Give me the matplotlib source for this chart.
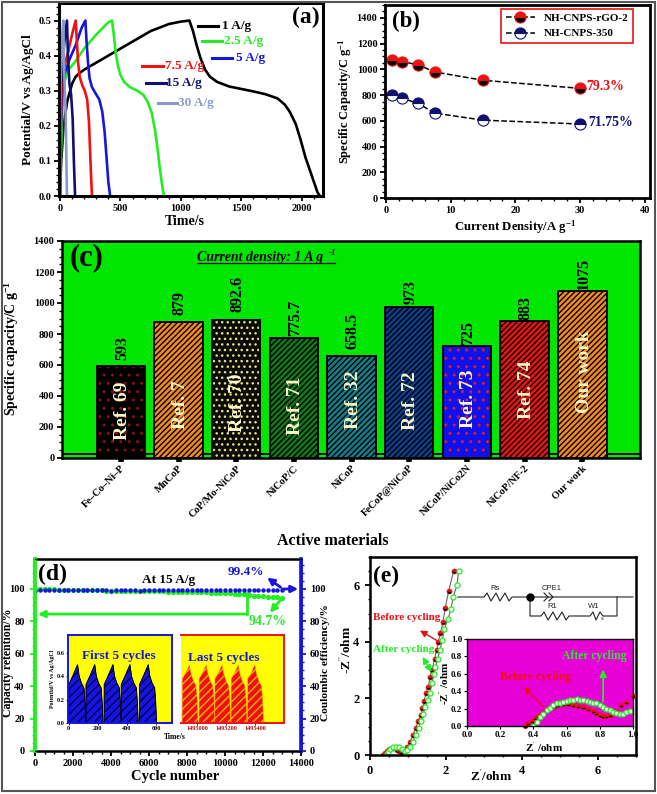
import matplotlib
matplotlib.use("Agg")
import matplotlib.pyplot as plt
from matplotlib.patches import Rectangle

plt.rcParams["font.family"] = ["Liberation Serif", "DejaVu Serif"]
plt.rcParams["font.weight"] = "bold"
plt.rcParams["axes.labelweight"] = "bold"
plt.rcParams["mathtext.fontset"] = "custom"
plt.rcParams["mathtext.rm"] = "Liberation Serif:bold"
plt.rcParams["mathtext.it"] = "Liberation Serif:italic:bold"
plt.rcParams["mathtext.bf"] = "Liberation Serif:bold"
plt.rcParams["mathtext.default"] = "rm"
plt.rcParams["hatch.linewidth"] = 1.0

W, H = 657, 794

# panel a, galvanostatic curves
t_1 = [0, 10, 30, 60, 100, 130, 160, 200, 300, 450, 600, 750, 900, 1000, 1070, 1100, 1130, 1160, 1200, 1240, 1300, 1400, 1500, 1600, 1700, 1800, 1860, 1900, 1950, 1990, 2030, 2080, 2130, 2150]
v_1 = [0, .10, .20, .27, .32, .34, .35, .36, .38, .41, .44, .47, .49, .497, .50, .47, .43, .395, .36, .34, .325, .312, .305, .298, .29, .278, .26, .24, .205, .16, .11, .06, .01, 0]
t_25 = [0, 8, 20, 40, 70, 120, 200, 300, 400, 430, 445, 460, 480, 500, 530, 580, 640, 690, 730, 760, 785, 805, 825, 845, 860]
v_25 = [0, .12, .25, .33, .36, .38, .42, .46, .495, .50, .46, .41, .37, .345, .325, .31, .30, .288, .265, .235, .19, .14, .08, .03, 0]
t_5 = [0, 5, 15, 40, 80, 130, 180, 210, 220, 232, 245, 265, 290, 325, 350, 370, 385, 400, 415]
v_5 = [0, .15, .28, .35, .39, .43, .48, .50, .44, .38, .335, .31, .295, .275, .24, .18, .11, .04, 0]
t_75 = [0, 4, 12, 30, 60, 100, 130, 140, 150, 163, 185, 205, 225, 240, 250, 258, 265]
v_75 = [0, .15, .30, .36, .40, .46, .50, .44, .38, .34, .315, .30, .275, .21, .12, .05, 0]
t_15 = [0, 3, 8, 20, 40, 58, 66, 78, 92, 105, 115, 125]
v_15 = [0, .18, .30, .38, .45, .50, .40, .32, .29, .22, .10, 0]
t_30 = [0, 2, 5, 12, 22, 28, 33, 40, 47, 53, 58]
v_30 = [0, .20, .32, .40, .47, .50, .38, .30, .24, .10, 0]

# panel b
density = [1, 2.5, 5, 7.5, 15, 30]
cap_rgo = [1075, 1060, 1035, 980, 915, 852]
cap_350 = [800, 775, 735, 660, 605, 575]

# panel c
materials = ["Fe–Co–Ni–P", "MnCoP", "CoP/Mo-NiCoP", "NiCoP/C", "NiCoP", "FeCoP@NiCoP", "NiCoP/NiCo2N", "NiCoP/NF-2", "Our work"]
capacity = [593, 879, 892.6, 775.7, 658.5, 973, 725, 883, 1075]
cap_text = ["593", "879", "892.6", "775.7", "658.5", "973", "725", "883", "1075"]
refs = ["Ref. 69", "Ref. 7", "Ref. 70", "Ref. 71", "Ref. 32", "Ref. 72", "Ref. 73", "Ref. 74", "Our work"]
bar_fill = ["#000000", "#f58a1f", "#0a0a0a", "#0e7a1c", "#11808a", "#0b3f8c", "#1010ee", "#ee1111", "#f58a1f"]
bar_hatch = ["#8a1010", "#000000", "#e8e070", "#000000", "#000000", "#000000", "#cc2222", "#000000", "#000000"]
bar_style = ["..", "//////", "...", "//////", "//////", "//////", "..", "//////", "//////"]
value_gap = [41, 43, 50, 9, 43, 21, 2, 9, 6]
ref_base = [116, 190, 165, 150, 190, 180, 195, 250, 290]

# panel d, every 250 cycles up to 13000
cycles = [0, 250, 500, 750, 1000, 1250, 1500, 1750, 2000, 2250, 2500, 2750, 3000, 3250, 3500, 3750, 4000, 4250, 4500, 4750,
          5000, 5250, 5500, 5750, 6000, 6250, 6500, 6750, 7000, 7250, 7500, 7750, 8000, 8250, 8500, 8750, 9000, 9250, 9500, 9750,
          10000, 10250, 10500, 10750, 11000, 11250, 11500, 11750, 12000, 12250, 12500, 12750, 13000]
retention = [100, 99.9, 99.8, 99.7, 99.7, 99.6, 99.5, 99.5, 99.4, 99.4, 99.3, 99.3, 99.2, 99.1, 99.1, 99.0, 99.0, 98.9, 98.9, 98.8,
             98.8, 98.7, 98.7, 98.7, 98.6, 98.6, 98.5, 98.5, 98.4, 98.4, 98.3, 98.3, 98.2, 98.1, 98.1, 98.0, 97.9, 97.8, 97.7, 97.6,
             97.5, 97.3, 97.2, 97.0, 96.7, 96.2, 95.9, 95.6, 95.4, 95.2, 95.0, 94.8, 94.7]
efficiency = [99.0, 99.2, 99.1, 99.3, 99.2, 99.1, 99.4, 99.3, 99.2, 99.3, 99.4, 99.5, 99.3, 99.2, 99.1, 99.2, 99.0, 99.1, 99.2, 99.1,
              99.2, 99.1, 99.0, 99.2, 99.3, 99.1, 99.4, 99.3, 99.2, 99.4, 99.3, 99.4, 99.5, 99.4, 99.3, 99.4, 99.5, 99.4, 99.3, 99.4,
              99.5, 99.4, 99.5, 99.4, 99.3, 99.4, 99.5, 99.6, 99.4, 99.5, 99.4, 99.5, 99.4]

first_t = [0, 1, 30, 61, 72, 88, 105, 112, 118]
first_v = [0, .33, .41, .50, .40, .34, .30, .18, 0]
first_start = [0, 118, 243, 360, 486]
last_t = [0, 1, 25, 50, 62, 78, 95, 103, 110]
last_v = [0, .38, .43, .50, .42, .36, .32, .22, 0]
last_start = [1494898, 1495014, 1495123, 1495235, 1495349]

# panel e
z_before = [.35, .40, .45, .50, .60, .70, .75, .82, .90, .98, 1.05, 1.13, 1.20, 1.27, 1.33, 1.38, 1.42, 1.48, 1.53, 1.58, 1.63, 1.70, 1.75, 1.80, 1.85, 1.92, 1.98, 2.07, 2.20]
y_before = [0, .08, .15, .22, .25, .18, .14, .12, .17, .30, .45, .70, .95, 1.20, 1.40, 1.65, 1.90, 2.20, 2.40, 2.75, 3.00, 3.40, 3.70, 4.00, 4.30, 4.70, 5.20, 5.80, 6.50]
z_after = [.42, .47, .52, .60, .68, .76, .84, .92, .98, 1.05, 1.12, 1.20, 1.28, 1.34, 1.40, 1.46, 1.52, 1.58, 1.63, 1.68, 1.72, 1.78, 1.84, 1.90, 1.96, 2.05, 2.13, 2.19, 2.29, 2.33]
y_after = [0, .12, .20, .29, .30, .27, .22, .15, .17, .30, .45, .70, .95, 1.20, 1.45, 1.70, 1.95, 2.20, 2.55, 2.85, 3.10, 3.40, 3.70, 4.05, 4.45, 4.80, 5.15, 5.60, 6.00, 6.50]

zi_before = [.35, .37, .39, .41, .43, .45, .47, .49, .51, .53, .55, .58, .61, .64, .67, .70, .73, .76, .78, .80, .82, .84, .86, .88, .90, .93, .96, 1.0]
yi_before = [0, .03, .06, .09, .12, .15, .18, .20, .22, .23, .24, .25, .25, .24, .23, .22, .20, .17, .15, .13, .12, .12, .13, .15, .17, .24, .28, .34]
zi_after = [.40, .42, .44, .46, .48, .50, .52, .54, .56, .58, .60, .62, .64, .66, .68, .70, .72, .74, .76, .78, .80, .82, .84, .86, .88, .90, .92, .94, .96, .98]
yi_after = [0, .05, .10, .14, .18, .21, .24, .26, .27, .28, .29, .30, .30, .31, .30, .30, .29, .28, .27, .26, .24, .22, .20, .18, .16, .15, .14, .14, .16, .17]


def add_ax(left, top, right, bottom, **kw):
    return fig.add_axes([left / W, 1 - bottom / H, (right - left) / W, (bottom - top) / H], **kw)


def style_ax(ax, size=7.5, lw=1.8):
    for s in ax.spines.values():
        s.set_linewidth(lw)
    ax.tick_params(which="major", direction="out", width=1.3, length=3.5, labelsize=size, pad=2)
    ax.tick_params(which="minor", direction="out", width=1.0, length=2)
    ax.minorticks_on()


fig = plt.figure(figsize=(W / 100, H / 100), dpi=100, facecolor="white")

# pixel overlay for the outer frame, circuit and call-outs
over = fig.add_axes([0, 0, 1, 1], zorder=10)
over.set_xlim(0, W)
over.set_ylim(H, 0)
over.axis("off")
over.add_patch(Rectangle((2, 2), W - 4, H - 5, fill=False, ec="#555555", lw=1.5))

# (a)
ax = add_ax(59, 3, 323, 196)
style_ax(ax, lw=2.2)
for t, v, c in [(t_1, v_1, "black"), (t_25, v_25, "#22ee22"), (t_5, v_5, "#1515dd"), (t_75, v_75, "#ee1111"), (t_15, v_15, "#101070"), (t_30, v_30, "#8a9ac8")]:
    ax.plot(t, v, color=c, lw=1.9)
ax.set_xlim(-8, 2175)
ax.set_ylim(0, 0.55)
ax.set_xticks([0, 500, 1000, 1500, 2000])
ax.set_yticks([0, .1, .2, .3, .4, .5])
ax.set_yticklabels(["0.0", "0.1", "0.2", "0.3", "0.4", "0.5"])
ax.set_xlabel("Time/s", fontsize=10)
ax.xaxis.set_label_coords(0.475, -0.098)
ax.set_ylabel("Potential/V vs Ag/AgCl", fontsize=9.5, labelpad=3)
ax.text(0.989, 0.925, "(a)", transform=ax.transAxes, fontsize=17, ha="right", va="center")
legend_a = [("1 A/g", "black", 198, 218, 26, 222), ("2.5 A/g", "#22ee22", 202, 222, 41, 224), ("5 A/g", "#1515dd", 212, 232, 58, 236),
            ("7.5 A/g", "#ee1111", 142, 163, 66, 165), ("15 A/g", "#101070", 146, 166, 83, 166), ("30 A/g", "#8a9ac8", 158, 177, 103, 178)]
for label, c, x0, x1, y, tx in legend_a:
    over.plot([x0, x1], [y, y], color=c, lw=2.2)
    over.text(tx, y, label, color=c, fontsize=9.5, va="center")

# (b)
ax = add_ax(385, 5, 650, 198)
style_ax(ax, lw=2)
ax.plot(density, cap_rgo, "--", color="black", lw=1.1, marker="o", ms=8, fillstyle="top", mfc="#ee1111", mfcalt="black", mec="#ee1111", mew=0.8, label="NH-CNPS-rGO-2")
ax.plot(density, cap_350, "--", color="black", lw=1.1, marker="o", ms=8, fillstyle="top", mfc="#101070", mfcalt="white", mec="#101070", mew=0.8, label="NH-CNPS-350")
ax.set_xlim(-0.15, 40.8)
ax.set_ylim(0, 1500)
ax.set_xticks([0, 10, 20, 30, 40])
ax.set_yticks(range(0, 1401, 200))
ax.set_xlabel("Current Density/A g$^{-1}$", fontsize=9.2)
ax.xaxis.set_label_coords(0.49, -0.105)
ax.set_ylabel("Specific Capacity/C g$^{-1}$", fontsize=9, labelpad=2)
ax.text(1, 1375, "(b)", fontsize=16.5, va="center")
ax.text(30.9, 865, "79.3%", color="#ee1111", fontsize=10, va="center")
ax.text(31.2, 585, "71.75%", color="#101070", fontsize=10, va="center")
leg = ax.legend(loc="upper right", bbox_to_anchor=(0.935, 0.98), fontsize=8, frameon=True, fancybox=False, edgecolor="#ee1111", borderaxespad=0, handlelength=2.6, labelspacing=0.5, framealpha=1)
leg.get_frame().set_linewidth(1.2)

# (c)
ax = add_ax(62, 241, 640, 458, facecolor="#00e600")
style_ax(ax, lw=1.8)
ax.tick_params(axis="x", which="minor", bottom=False)
ax.tick_params(axis="x", which="major", width=4, length=3, pad=1)
xs = list(range(len(materials)))
for x, h, f, hc, st in zip(xs, capacity, bar_fill, bar_hatch, bar_style):
    ax.bar(x, h, width=0.84, color=f, edgecolor=hc, hatch=st, lw=0, zorder=3)
    ax.bar(x, h, width=0.84, fill=False, edgecolor="black", lw=1.4, zorder=4)
for x, h, s, r, gap, base in zip(xs, capacity, cap_text, refs, value_gap, ref_base):
    ax.text(x + 0.02, h + gap, s, rotation=90, ha="center", va="bottom", fontsize=11.5, zorder=6)
    ax.text(x + 0.03, base, r, rotation=90, ha="center", va="bottom", fontsize=14, color="#fff6c8", zorder=6)
ax.axhline(25, color="black", lw=1.4, zorder=2)
ax.set_xlim(-1.02, 9.0)
ax.set_ylim(0, 1400)
ax.set_yticks(range(0, 1401, 200))
ax.set_xticks(xs)
ax.set_xticklabels(materials, rotation=45, ha="right", rotation_mode="anchor", fontsize=7.5)
ax.set_xlabel("Active materials", fontsize=11.5)
ax.xaxis.set_label_coords(0.469, -0.345)
ax.set_ylabel("Specific capacity/C g$^{-1}$", fontsize=10)
ax.yaxis.set_label_coords(-0.071, 0.505)
ax.text(-0.6, 1290, "(c)", fontsize=22, ha="center", va="center")
over.text(197, 257, "Current density: 1 A g", style="italic", fontsize=10, va="center")
over.text(329, 253, "-1", style="italic", fontsize=6.5, va="center")
over.plot([197, 335], [263, 263], color="black", lw=0.9)

# (d)
ax = add_ax(35, 559, 301, 751)
style_ax(ax, lw=1.8)
ax.tick_params(axis="y", which="major", pad=4)
ax.plot(cycles, retention, ls="none", marker="o", ms=2.8, color="#22ee22", zorder=3)
ax.plot(cycles, efficiency, ls="none", marker="o", ms=2.2, color="#1515dd", zorder=4)
ax.set_xlim(0, 14000)
ax.set_ylim(0, 118.5)
ax.set_xticks(range(0, 14001, 2000))
ax.set_yticks(range(0, 101, 20))
ax.spines["left"].set_color("#22ee22")
ax.spines["left"].set_linewidth(2.6)
ax.tick_params(axis="y", which="both", color="#22ee22")
ax.set_xlabel("Cycle number", fontsize=10.5)
ax.xaxis.set_label_coords(0.525, -0.10)
ax.set_ylabel("Capacity retention/%", fontsize=8.5)
ax.yaxis.set_label_coords(-0.078, 0.46)
ax.text(158, 109, "(d)", fontsize=17, va="center")
ax.text(7050, 105.5, "At 15 A/g", fontsize=9.5, ha="center", va="center")
ax.text(10157, 110.5, "99.4%", color="#1515dd", fontsize=9.5, va="center")
ax.text(11260, 80, "94.7%", color="#22ee22", fontsize=10, va="center")
ax.plot([11150, 11150], [97.5, 84.5], color="#22ee22", lw=2)
ax.annotate("", xy=(0, 84.5), xytext=(11250, 84.5), arrowprops=dict(arrowstyle="-|>", color="#22ee22", lw=2))
ax.annotate("", xy=(12270, 84), xytext=(13050, 95), arrowprops=dict(arrowstyle="-|>", color="#22ee22", lw=2))
ax.annotate("", xy=(14000, 100), xytext=(12900, 100), arrowprops=dict(arrowstyle="-|>", color="#1515dd", lw=2))
ax.annotate("", xy=(12100, 108), xytext=(13050, 100), arrowprops=dict(arrowstyle="-|>", color="#1515dd", lw=2))
right = ax.twinx()
right.set_ylim(0, 118.5)
right.set_yticks(range(0, 101, 20))
right.minorticks_on()
right.spines["right"].set_color("#1515dd")
right.spines["right"].set_linewidth(2.6)
right.spines["left"].set_color("#22ee22")
right.spines["left"].set_linewidth(2.6)
right.tick_params(axis="y", which="major", color="#1515dd", width=1.3, length=3.5, labelsize=7.5, pad=3)
right.tick_params(axis="y", which="minor", color="#1515dd", width=1.0, length=2)
right.set_ylabel("Coulombic efficiency/%", fontsize=8.2)
right.yaxis.set_label_coords(1.075, 0.46)

ins = add_ax(68, 635, 172, 723, facecolor="#ffff00")
for s in ins.spines.values():
    s.set_linewidth(1.4)
    s.set_color("#1515dd")
for start in first_start:
    ins.fill_between([start + t for t in first_t], first_v, 0, facecolor="#1515dd", edgecolor="#000060", hatch="////", lw=0.4)
    ins.plot([start + t for t in first_t], first_v, color="black", lw=0.6)
ins.plot([604, 715], [0, 0], color="black", lw=0.8)
ins.set_xlim(-5, 710)
ins.set_ylim(0, 0.754)
ins.set_xticks([0, 200, 400, 600])
ins.set_yticks([0, .2, .4, .6])
ins.set_yticklabels(["0.0", "0.2", "0.4", "0.6"])
ins.tick_params(labelsize=4.5, length=1.5, width=0.6, pad=1)
ins.set_ylabel("Potential/V vs Ag/AgCl", fontsize=4.2, labelpad=1)
ins.text(345, 0.57, "First 5 cycles", color="#1515dd", fontsize=9.5, ha="center", va="center")

ins2 = add_ax(181, 635, 284, 723, facecolor="#ffff00")
for s in ins2.spines.values():
    s.set_linewidth(1.4)
    s.set_color("#ee1111")
ins2.spines["left"].set_visible(False)
for start in last_start:
    ins2.fill_between([start + t for t in last_t], last_v, 0, facecolor="#ee1111", edgecolor="#ffb000", hatch="////", lw=0.3)
ins2.set_xlim(1494890, 1495600)
ins2.set_ylim(0, 0.754)
ins2.set_xticks([1495000, 1495200, 1495400])
ins2.set_xticklabels(["1495000", "1495200", "1495400"], color="#aa1010")
ins2.set_yticks([])
ins2.tick_params(labelsize=4.5, length=1.5, width=0.6, pad=1)
ins2.text(1495183, 0.557, "Last 5 cycles", color="#1515dd", fontsize=9.5, ha="center", va="center")
over.text(175, 737, "Time/s", fontsize=5.5, ha="center", va="center")

# (e)
ax = add_ax(370, 557, 636, 755)
style_ax(ax, size=9, lw=1.8)
ax.plot(z_before, y_before, color="#666666", lw=0.8, marker="o", ms=3.6, fillstyle="top", mfc="#ee1111", mfcalt="black", mec="#ee1111", mew=0.5)
ax.plot(z_after, y_after, color="#666666", lw=0.8, marker="o", ms=3.6, mfc="white", mec="#22ee22", mew=0.9)
ax.set_xlim(0, 7)
ax.set_ylim(0, 7)
ax.set_xticks([0, 2, 4, 6])
ax.set_yticks([0, 2, 4, 6])
ax.tick_params(axis="both", which="major", pad=4)
ax.tick_params(axis="both", which="minor", length=1.5)
ax.set_xlabel("Z$^{'}$/ohm", fontsize=9.5)
ax.xaxis.set_label_coords(0.455, -0.07)
ax.set_ylabel("-Z$^{''}$/ohm", fontsize=9.5)
ax.yaxis.set_label_coords(-0.06, 0.53)
ax.text(0.08, 6.3, "(e)", fontsize=17, va="center")
ax.text(0.08, 4.85, "Before cycling", color="#ee1111", fontsize=8, va="center")
ax.text(0.08, 3.74, "After cycling", color="#22ee22", fontsize=8, va="center")
ax.annotate("", xy=(1.25, 4.45), xytext=(1.82, 4.0), arrowprops=dict(arrowstyle="-|>", color="#ee1111", lw=1))
ax.annotate("", xy=(1.35, 3.55), xytext=(1.65, 2.85), arrowprops=dict(arrowstyle="<|-|>", color="#22ee22", lw=1))

ins = add_ax(467, 639, 633, 726, facecolor="#e800d8")
for s in ins.spines.values():
    s.set_linewidth(1.0)
ins.plot(zi_before, yi_before, ls="none", marker="o", ms=3.2, fillstyle="top", mfc="#ee1111", mfcalt="black", mec="#ee1111", mew=0.5, clip_on=False)
ins.plot(zi_after, yi_after, ls="none", marker="o", ms=3.4, mfc="white", mec="#22ee22", mew=0.9)
ins.set_xlim(0, 1)
ins.set_ylim(0, 1)
ins.set_xticks([0, .2, .4, .6, .8, 1])
ins.set_xticklabels(["0.0", "0.2", "0.4", "0.6", "0.8", "1.0"])
ins.set_yticks([0, .2, .4, .6, .8, 1])
ins.set_yticklabels(["0.0", "0.2", "0.4", "0.6", "0.8", "1.0"])
ins.tick_params(labelsize=6.5, length=2, width=0.8, pad=1.5)
ins.set_xlabel("Z$^{'}$ /ohm", fontsize=8)
ins.xaxis.set_label_coords(0.464, -0.17)
ins.set_ylabel("-Z$^{''}$ /ohm", fontsize=8)
ins.yaxis.set_label_coords(-0.096, 0.49)
ins.text(0.2, 0.56, "Before cycling", color="#ee1111", fontsize=8.5, va="center")
ins.text(0.57, 0.80, "After cycling", color="#22ee22", fontsize=8.5, va="center")
ins.annotate("", xy=(0.33, 0.47), xytext=(0.47, 0.2), arrowprops=dict(arrowstyle="-|>", color="#ee1111", lw=1))
ins.annotate("", xy=(0.82, 0.68), xytext=(0.82, 0.25), arrowprops=dict(arrowstyle="-|>", color="#22ee22", lw=1.3))

# equivalent circuit
cc = "#222222"
over.plot([458, 484, 487, 491, 496, 500, 505, 509, 512, 530, 633], [597, 597, 593, 601, 593, 601, 593, 601, 597, 597, 597], color=cc, lw=0.8)
over.plot([530, 530, 541, 544, 548, 553, 557, 562, 566, 569, 590, 593, 596, 600, 603, 617, 617], [597, 616, 616, 612, 620, 612, 620, 612, 620, 616, 616, 612, 620, 612, 616, 616, 597], color=cc, lw=0.8)
over.plot([530], [597], "o", color="black", ms=5)
over.plot([544, 548, 544], [593, 597, 601], color=cc, lw=0.8)
over.plot([549, 553, 549], [593, 597, 601], color=cc, lw=0.8)
for x, y, s in [(495, 588, "Rs"), (552, 588, "CPE1"), (552, 607, "R1"), (594, 607, "W1")]:
    over.text(x, y, s, family="Liberation Sans", weight="normal", fontsize=5.5, ha="center", va="center", color=cc)
over.text(602, 619, "s", family="Liberation Sans", weight="normal", fontsize=4, ha="center", va="center", color=cc)

fig.savefig("out.png", dpi=100, facecolor="white")
